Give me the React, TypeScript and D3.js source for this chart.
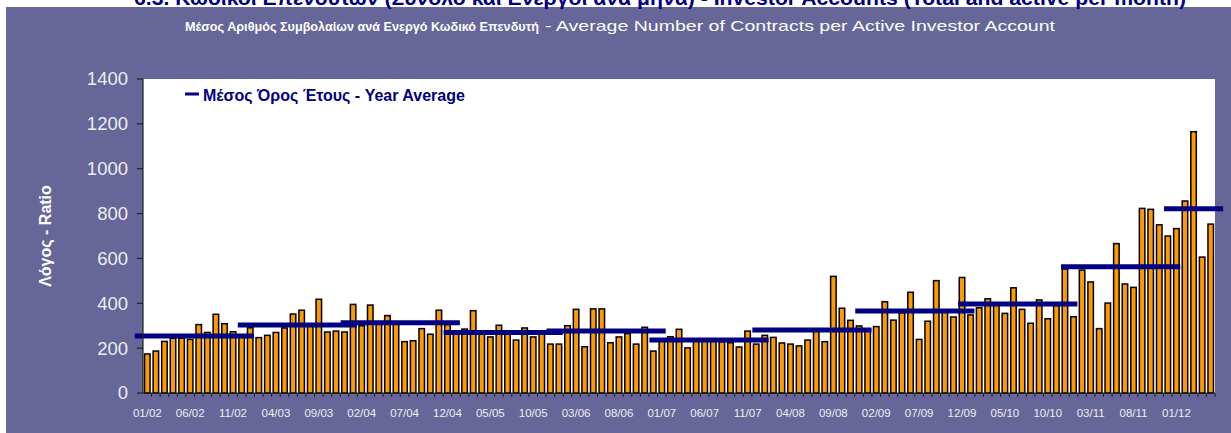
import React from 'react';
import * as d3 from 'd3';

// monthly average contracts per active investor account, 01/2002 - 05/2012
const startYear = 2002;
const monthlyRatio = [
  // 2002
  174, 187, 230, 244, 244, 239, 305, 270, 351, 309, 273, 255,
  // 2003
  291, 247, 257, 270, 290, 352, 369, 300, 418, 272, 276, 272,
  // 2004
  395, 300, 392, 310, 345, 310, 229, 233, 287, 262, 369, 305,
  // 2005
  270, 285, 367, 265, 250, 302, 275, 236, 290, 250, 270, 218,
  // 2006
  218, 300, 373, 206, 375, 375, 224, 250, 265, 218, 293, 187,
  // 2007
  232, 251, 284, 201, 230, 232, 230, 228, 224, 205, 276, 218,
  // 2008
  257, 248, 223, 218, 210, 236, 276, 229, 520, 378, 324, 299,
  // 2009
  280, 296, 407, 325, 358, 449, 239, 320, 501, 360, 339, 515,
  // 2010
  348, 380, 420, 395, 355, 469, 373, 311, 415, 331, 390, 553,
  // 2011
  340, 548, 495, 287, 401, 666, 486, 471, 823, 819, 750, 700,
  // 2012
  733, 856, 1165, 606, 753,
];

const years = [2002, 2003, 2004, 2005, 2006, 2007, 2008, 2009, 2010, 2011, 2012];
const yearAverage = [254, 303, 313, 270, 276, 236, 281, 366, 397, 563, 822];

const xTickLabels = [
  '01/02', '06/02', '11/02', '04/03', '09/03', '02/04', '07/04', '12/04', '05/05',
  '10/05', '03/06', '08/06', '01/07', '06/07', '11/07', '04/08', '09/08', '02/09',
  '07/09', '12/09', '05/10', '10/10', '03/11', '08/11', '01/12',
];
const yTicks = [0, 200, 400, 600, 800, 1000, 1200, 1400];

const months = monthlyRatio.map((_, i) => {
  const m = (i % 12) + 1;
  const yy = (startYear + Math.floor(i / 12)) % 100;
  return `${String(m).padStart(2, '0')}/${String(yy).padStart(2, '0')}`;
});

const FONT = "Arial, 'Liberation Sans', sans-serif";
const NAVY = '#000080';

export default function App() {
  const W = 1231;
  const H = 433;
  const plot = { left: 143, right: 1215, top: 79, bottom: 393 };

  const x = d3.scaleBand<string>().domain(months).range([plot.left, plot.right]).padding(0);
  const y = d3.scaleLinear().domain([0, 1400]).range([plot.bottom, plot.top]);
  const bw = x.bandwidth();
  const barW = 5.5;

  return (
    <svg width={W} height={H} style={{ position: 'absolute', left: 0, top: 0 }} fontFamily={FONT}>
      <rect x={0} y={0} width={W} height={H} fill="#ffffff" />
      {/* outer panel */}
      <rect x={6} y={7} width={W - 6} height={H - 7} fill="#666699" />

      <text x={134} y={5} fontSize={20} fontWeight="bold" fill={NAVY} textLength={1052} lengthAdjust="spacingAndGlyphs">
        6.3. Κωδικοί Επενδυτών (Σύνολο και Ενεργοί ανά μήνα) - Investor Accounts (Total and active per month)
      </text>

      <text x={185} y={31} fontSize={13.5} fontWeight="bold" fill="#ffffff" textLength={354} lengthAdjust="spacingAndGlyphs">
        Μέσος Αριθμός Συμβολαίων ανά Ενεργό Κωδικό Επενδυτή
      </text>
      <text x={545} y={31} fontSize={15} fill="#ffffff" textLength={510} lengthAdjust="spacingAndGlyphs">
        - Average Number of Contracts per Active Investor Account
      </text>

      {/* plot area */}
      <rect x={plot.left} y={plot.top} width={plot.right - plot.left} height={plot.bottom - plot.top} fill="#ffffff" />

      {/* bars */}
      {monthlyRatio.map((v, i) => (
        <rect
          key={months[i]}
          x={(x(months[i]) as number) + (bw - barW) / 2}
          y={y(v)}
          width={barW}
          height={y(0) - y(v)}
          fill="#ff9900"
          stroke="#000000"
          strokeWidth={1.5}
        />
      ))}

      {/* year averages */}
      {years.map((yr, k) => {
        const first = k * 12;
        const last = Math.min(first + 11, monthlyRatio.length - 1);
        const x1 = (x(months[first]) as number) - 0.95 * bw;
        const x2 = (x(months[last]) as number) + bw + 0.95 * bw;
        return (
          <line key={yr} x1={x1} x2={x2} y1={y(yearAverage[k])} y2={y(yearAverage[k])} stroke={NAVY} strokeWidth={5} />
        );
      })}

      {/* y axis */}
      <line x1={plot.left} x2={plot.left} y1={plot.top} y2={plot.bottom} stroke="#222" strokeWidth={1.2} />
      {yTicks.map(t => (
        <g key={t}>
          <line x1={plot.left - 6} x2={plot.left} y1={y(t)} y2={y(t)} stroke="#222" strokeWidth={1.2} />
          <text x={128} y={y(t)} dy="0.35em" textAnchor="end" fontSize={18.5} fill="#eeeeee">
            {t}
          </text>
        </g>
      ))}

      {/* x axis */}
      <line x1={plot.left} x2={plot.right} y1={plot.bottom} y2={plot.bottom} stroke="#222" strokeWidth={1.2} />
      {months.map(m => (
        <line
          key={m}
          x1={(x(m) as number) + bw}
          x2={(x(m) as number) + bw}
          y1={plot.bottom}
          y2={plot.bottom + 4}
          stroke="#222"
          strokeWidth={1}
        />
      ))}
      {xTickLabels.map(l => (
        <text key={l} x={(x(l) as number) + bw / 2} y={417} textAnchor="middle" fontSize={11.5} fill="#eeeeee">
          {l}
        </text>
      ))}

      <text
        transform={`translate(51,236) rotate(-90)`}
        textAnchor="middle"
        fontSize={16}
        fontWeight="bold"
        fill="#ffffff"
      >
        Λόγος - Ratio
      </text>

      {/* legend */}
      <line x1={185} x2={199} y1={94} y2={94} stroke={NAVY} strokeWidth={3} />
      <text x={203} y={101} fontSize={16} fontWeight="bold" fill={NAVY}>
        Μέσος Όρος Έτους - Year Average
      </text>
    </svg>
  );
}
